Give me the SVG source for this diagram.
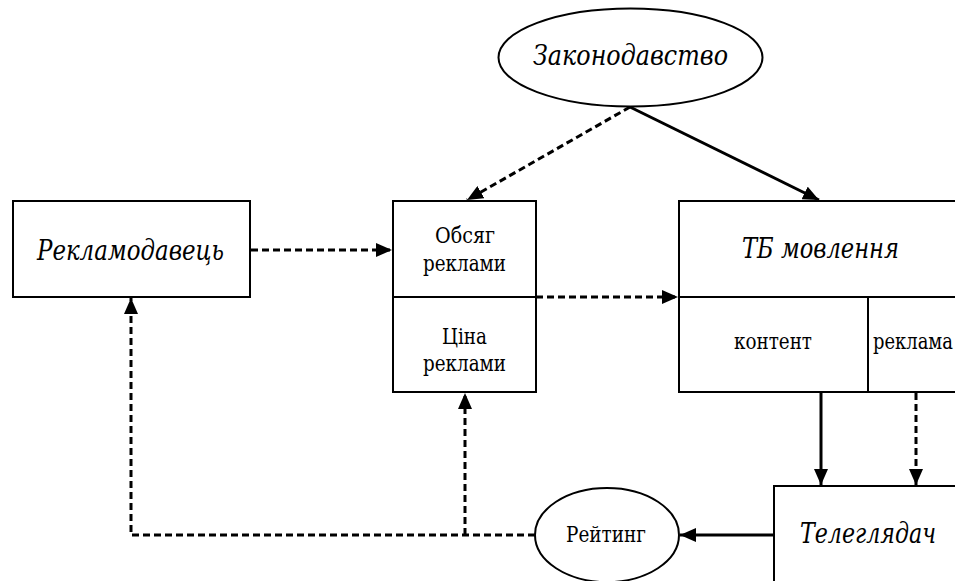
<svg xmlns="http://www.w3.org/2000/svg" width="955" height="581" viewBox="0 0 955 581">
<defs>
<style>
.box{fill:#fff;stroke:#000;stroke-width:2}
.t{fill:#000;font-family:'DejaVu Serif','Liberation Serif',serif}
.big{font-size:28px;font-style:italic}
.sm{font-size:22px}
.c{fill:none;stroke:#000;stroke-width:3}
.d{stroke-dasharray:7 4}
.ln{stroke:#000;stroke-width:2}
</style>
<marker id="ah" markerUnits="userSpaceOnUse" markerWidth="16" markerHeight="14" refX="16" refY="7" orient="auto">
<path d="M0,0 L16,7 L0,14 z" fill="#000"/>
</marker>
</defs>
<rect width="955" height="581" fill="#fff"/>
<g id="connectors">
<line class="c d" x1="630" y1="107" x2="467" y2="200" marker-end="url(#ah)"/>
<line class="c" x1="630" y1="107" x2="819" y2="200" marker-end="url(#ah)"/>
<line class="c d" x1="251" y1="250" x2="392" y2="250" marker-end="url(#ah)"/>
<line class="c d" x1="536" y1="297" x2="678" y2="297" marker-end="url(#ah)"/>
<line class="c" x1="821" y1="393" x2="821" y2="485" marker-end="url(#ah)"/>
<line class="c d" x1="916" y1="393" x2="916" y2="485" marker-end="url(#ah)"/>
<line class="c" x1="774" y1="535" x2="680" y2="535" marker-end="url(#ah)"/>
<polyline class="c d" points="535,535 131,535 131,298" marker-end="url(#ah)"/>
<line class="c d" x1="465" y1="535" x2="465" y2="393" marker-end="url(#ah)"/>
</g>
<g id="zakon">
<ellipse class="box" cx="630.5" cy="57.5" rx="132" ry="49"/>
<text class="t big" x="533" y="65" textLength="195" lengthAdjust="spacingAndGlyphs">Законодавство</text>
</g>
<g id="reklamodavets">
<rect class="box" x="13" y="201" width="237" height="96"/>
<text class="t big" x="37" y="260" textLength="187" lengthAdjust="spacingAndGlyphs">Рекламодавець</text>
</g>
<g id="obsyag">
<rect class="box" x="393" y="201" width="143" height="191"/>
<line class="ln" x1="393" y1="297" x2="536" y2="297"/>
<text class="t sm" x="435" y="243" textLength="60" lengthAdjust="spacingAndGlyphs">Обсяг</text>
<text class="t sm" x="423" y="271" textLength="83" lengthAdjust="spacingAndGlyphs">реклами</text>
<text class="t sm" x="442" y="344" textLength="45" lengthAdjust="spacingAndGlyphs">Ціна</text>
<text class="t sm" x="423" y="371" textLength="83" lengthAdjust="spacingAndGlyphs">реклами</text>
</g>
<g id="tb">
<rect class="box" x="679" y="201" width="300" height="191"/>
<line class="ln" x1="679" y1="297" x2="979" y2="297"/>
<line class="ln" x1="868" y1="297" x2="868" y2="392"/>
<text class="t big" x="742" y="258" textLength="157" lengthAdjust="spacingAndGlyphs">ТБ мовлення</text>
<text class="t sm" x="734" y="349" textLength="78" lengthAdjust="spacingAndGlyphs">контент</text>
<text class="t sm" x="873" y="349" textLength="80" lengthAdjust="spacingAndGlyphs">реклама</text>
</g>
<g id="teleglyadach">
<rect class="box" x="774" y="486" width="300" height="200"/>
<text class="t big" x="800" y="543" textLength="136" lengthAdjust="spacingAndGlyphs">Телеглядач</text>
</g>
<g id="reyting">
<ellipse class="box" cx="607" cy="535" rx="72" ry="47"/>
<text class="t sm" x="566" y="542" textLength="80" lengthAdjust="spacingAndGlyphs">Рейтинг</text>
</g>
</svg>
